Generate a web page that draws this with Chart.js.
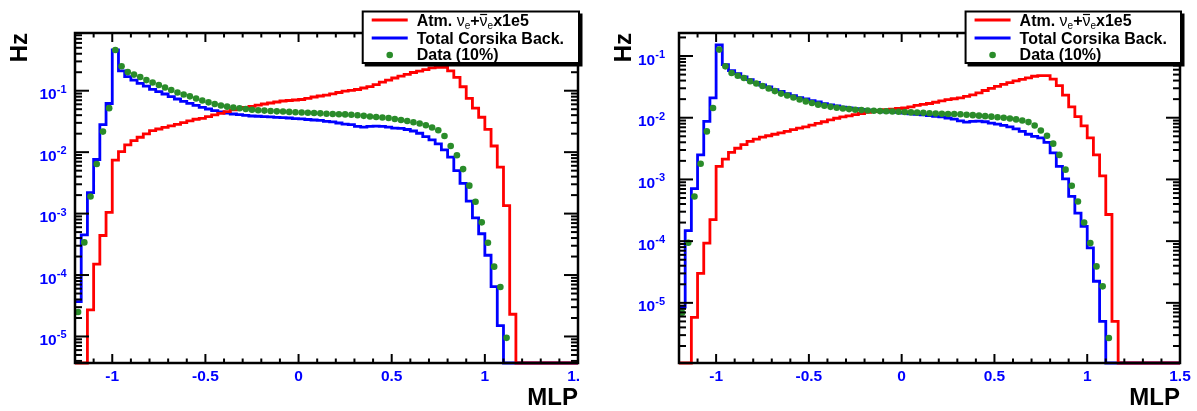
<!DOCTYPE html>
<html>
<head>
<meta charset="utf-8">
<script src="https://cdn.jsdelivr.net/npm/chart.js@4.4.1/dist/chart.umd.min.js"></script>
<style>
  html, body { margin: 0; padding: 0; background: #fff; }
  #wrap { position: relative; width: 1197px; height: 411px; }
  canvas { position: absolute; top: 0; }
</style>
</head>
<body>
<div id="wrap">
  <canvas id="left" width="598" height="411" style="left:0"></canvas>
  <canvas id="right" width="599" height="411" style="left:598px"></canvas>
</div>
<script>
// MLP histograms: 81 bins of width 1/30 from -1.2 to 1.5
const BIN_MIN = -1.2;
const BIN_WIDTH = 1 / 30;

const xTicks = [-1, -0.5, 0, 0.5, 1, 1.5];
const xTickLabels = ['-1', '-0.5', '0', '0.5', '1', '1.5'];
const yDecades = [-1, -2, -3, -4, -5];

const legendNames = ['Atm. \u03BDe+\u03BDex1e5', 'Total Corsika Back.', 'Data (10%)'];

// left panel
const nueLeft = [
  0, 0, 2.7e-5, 1.5e-4, 4.4e-4, 1.05e-3, 7.4e-3, 0.0102, 0.0131, 0.0154,
  0.0175, 0.0198, 0.0224, 0.0238, 0.0254, 0.0267, 0.0284, 0.0302, 0.0322, 0.0343,
  0.0356, 0.0378, 0.0403, 0.0429, 0.0456, 0.0486, 0.051, 0.0533, 0.0557, 0.0581,
  0.0608, 0.0631, 0.0655, 0.068, 0.0693, 0.0706, 0.0719, 0.0752, 0.079, 0.082,
  0.0851, 0.0891, 0.0935, 0.0982, 0.1015, 0.1046, 0.1107, 0.117, 0.126, 0.138,
  0.149, 0.161, 0.173, 0.185, 0.198, 0.209, 0.221, 0.235, 0.24, 0.24,
  0.211, 0.165, 0.116, 0.075, 0.052, 0.037, 0.0235, 0.0126, 0.0057, 0.00135,
  2.3e-5, 0, 0, 0, 0, 0, 0, 0, 0, 0,
  0
];
const corsikaLeft = [
  3.7e-5, 4.5e-4, 2.2e-3, 7.6e-3, 0.028, 0.062, 0.46, 0.211, 0.169, 0.149,
  0.132, 0.119, 0.105, 0.0964, 0.0884, 0.0799, 0.0733, 0.0673, 0.0624, 0.0579,
  0.0537, 0.0504, 0.0473, 0.0451, 0.0434, 0.0418, 0.0407, 0.0398, 0.0388, 0.0384,
  0.0378, 0.0374, 0.0369, 0.0364, 0.036, 0.0351, 0.0347, 0.034, 0.0334, 0.0328,
  0.0318, 0.031, 0.0298, 0.0287, 0.028, 0.0262, 0.0255, 0.0262, 0.0265, 0.0262,
  0.0255, 0.0247, 0.0243, 0.0234, 0.0221, 0.0203, 0.0179, 0.0158, 0.0136, 0.0109,
  0.0083, 0.005, 0.0031, 0.0016, 8.5e-4, 4.7e-4, 2.1e-4, 6.5e-5, 1.5e-5, 0,
  0, 0, 0, 0, 0, 0, 0, 0, 0, 0,
  0
];
const dataLeft = [
  2.5e-5, 3.4e-4, 1.9e-3, 6.4e-3, 0.0216, 0.052, 0.46, 0.25, 0.201, 0.183,
  0.167, 0.149, 0.136, 0.124, 0.113, 0.1026, 0.0935, 0.087, 0.081, 0.0747,
  0.0693, 0.0647, 0.0608, 0.0575, 0.055, 0.0533, 0.0518, 0.0505, 0.049, 0.0482,
  0.0475, 0.0468, 0.0462, 0.0458, 0.0452, 0.0447, 0.0442, 0.0437, 0.0433, 0.0428,
  0.0423, 0.0418, 0.0415, 0.0412, 0.0406, 0.0398, 0.039, 0.038, 0.0373, 0.0366,
  0.036, 0.0347, 0.0334, 0.0322, 0.0307, 0.0293, 0.0274, 0.0252, 0.0227, 0.0183,
  0.0126, 0.0089, 0.0053, 0.00285, 0.00156, 7.2e-4, 3.36e-4, 1.37e-4, 6.4e-5, 9.5e-6,
  0, 0, 0, 0, 0, 0, 0, 0, 0, 0,
  0
];

// right panel
const nueRight = [
  0, 0, 5.8e-6, 3.0e-5, 9.3e-5, 2.24e-4, 1.63e-3, 2.14e-3, 2.74e-3, 3.2e-3,
  3.66e-3, 4.14e-3, 4.5e-3, 4.86e-3, 5.1e-3, 5.4e-3, 5.7e-3, 6.0e-3, 6.4e-3, 6.8e-3,
  7.1e-3, 7.6e-3, 8.1e-3, 8.6e-3, 9.2e-3, 9.8e-3, 0.0103, 0.0107, 0.0112, 0.0117,
  0.0122, 0.0126, 0.0131, 0.0135, 0.0138, 0.0141, 0.0144, 0.015, 0.0158, 0.0164,
  0.017, 0.0178, 0.0187, 0.0196, 0.0203, 0.0209, 0.0221, 0.0234, 0.0252, 0.0276,
  0.0298, 0.0322, 0.0346, 0.037, 0.0396, 0.0418, 0.0442, 0.047, 0.048, 0.048,
  0.0422, 0.033, 0.0232, 0.015, 0.0104, 0.0074, 0.0047, 0.0025, 0.00114, 2.7e-4,
  5.0e-6, 0, 0, 0, 0, 0, 0, 0, 0, 0,
  0
];
const corsikaRight = [
  8.5e-6, 1.48e-4, 7.1e-4, 2.5e-3, 8.7e-3, 0.021, 0.152, 0.0724, 0.0578, 0.0517,
  0.0457, 0.0413, 0.0374, 0.0339, 0.0315, 0.0285, 0.0267, 0.0245, 0.0228, 0.0211,
  0.0201, 0.0189, 0.018, 0.0169, 0.0161, 0.0155, 0.0149, 0.0144, 0.014, 0.0137,
  0.0133, 0.013, 0.0127, 0.0125, 0.0124, 0.0122, 0.0119, 0.0116, 0.0113, 0.0111,
  0.0108, 0.0105, 0.0103, 0.0099, 0.0095, 0.0089, 0.0085, 0.0087, 0.0088, 0.0086,
  0.0082, 0.0079, 0.0075, 0.0071, 0.0066, 0.006, 0.0054, 0.005, 0.0047, 0.004,
  0.0027, 0.00163, 0.00102, 5.3e-4, 2.85e-4, 1.74e-4, 7.8e-5, 2.24e-5, 5.0e-6, 0,
  0, 0, 0, 0, 0, 0, 0, 0, 0, 0,
  0
];
const dataRight = [
  6.9e-6, 9.4e-5, 5.3e-4, 1.8e-3, 6.0e-3, 0.0144, 0.127, 0.068, 0.053, 0.048,
  0.044, 0.039, 0.0358, 0.0326, 0.0297, 0.027, 0.0246, 0.0229, 0.0213, 0.0197,
  0.0184, 0.0173, 0.0163, 0.0156, 0.015, 0.0145, 0.0141, 0.0138, 0.0135, 0.0133,
  0.0131, 0.013, 0.0128, 0.0127, 0.0126, 0.0125, 0.0124, 0.0122, 0.0121, 0.012,
  0.0118, 0.0117, 0.0116, 0.0115, 0.0115, 0.0114, 0.0112, 0.011, 0.0108, 0.0106,
  0.0104, 0.0102, 0.01, 0.0097, 0.0094, 0.009, 0.0085, 0.0075, 0.0062, 0.0051,
  0.0038, 0.0025, 0.00144, 7.9e-4, 4.4e-4, 2.0e-4, 9.3e-5, 3.9e-5, 1.85e-5, 2.7e-6,
  0, 0, 0, 0, 0, 0, 0, 0, 0, 0,
  0
];

const RED = '#ff0000';
const BLUE = '#0000ff';
const GREEN = '#2a8c2a';
const FONT = "'Liberation Sans', Arial, Helvetica, sans-serif";

// step outline: one point per lower bin edge, empty bins sit on the frame bottom
function histPoints(vals, yMin) {
    const pts = vals.map((v, i) => ({ x: BIN_MIN + i * BIN_WIDTH, y: v > 0 ? v : yMin }));
    pts.push({ x: BIN_MIN + vals.length * BIN_WIDTH, y: pts[pts.length - 1].y });
    return pts;
}

// markers at bin centres, empty bins are not drawn
function dotPoints(vals) {
    const pts = [];
    vals.forEach((v, i) => {
        if (v > 0) pts.push({ x: BIN_MIN + (i + 0.5) * BIN_WIDTH, y: v });
    });
    return pts;
}

function line(ctx, x1, y1, x2, y2) {
    ctx.beginPath();
    ctx.moveTo(x1, y1);
    ctx.lineTo(x2, y2);
    ctx.stroke();
}

// text pieces with their own font and vertical shift
function drawRich(ctx, parts, x, y) {
    parts.forEach(p => {
        ctx.font = p.font;
        const w = ctx.measureText(p.t).width;
        ctx.fillText(p.t, x, y + (p.dy || 0));
        if (p.bar) {
            ctx.save();
            ctx.lineWidth = 1.2;
            line(ctx, x + 0.5, y - 11.5, x + w - 0.5, y - 11.5);
            ctx.restore();
        }
        x += w;
    });
}

// ROOT style frame, inner ticks, labels, titles and legend
const rootAxes = {
    id: 'rootAxes',
    afterDatasetsDraw(chart, args, o) {
        const { ctx, chartArea: a, scales: { x, y } } = chart;
        ctx.save();
        ctx.strokeStyle = '#000';
        ctx.lineWidth = 2;

        for (let i = -12; i <= 15; i++) {
            const px = x.getPixelForValue(i / 10);
            const len = i % 5 === 0 ? 9 : 4.5;
            line(ctx, px, a.bottom, px, a.bottom - len);
            line(ctx, px, a.top, px, a.top + len);
        }
        for (let n = -6; n <= 0; n++) {
            for (let m = 1; m <= 9; m++) {
                const v = m * Math.pow(10, n);
                if (v < y.min || v > y.max) continue;
                const py = y.getPixelForValue(v);
                const len = m === 1 ? 14 : 7;
                line(ctx, a.left, py, a.left + len, py);
                line(ctx, a.right, py, a.right - len, py);
            }
        }
        ctx.lineWidth = 2.5;
        ctx.strokeRect(a.left, a.top, a.right - a.left, a.bottom - a.top);

        // x tick labels
        ctx.fillStyle = BLUE;
        ctx.font = 'bold 15.5px ' + FONT;
        ctx.textAlign = 'center';
        ctx.textBaseline = 'alphabetic';
        ctx.save();
        ctx.beginPath();
        ctx.rect(0, 0, a.right + o.clipRight, chart.height);
        ctx.clip();
        xTicks.forEach((v, i) => {
            ctx.fillText(xTickLabels[i], x.getPixelForValue(v), a.bottom + 17.5);
        });
        ctx.restore();

        // y tick labels: 10 with a raised exponent
        ctx.textAlign = 'left';
        yDecades.forEach(n => {
            const v = Math.pow(10, n);
            if (v < y.min || v > y.max) return;
            const py = y.getPixelForValue(v);
            ctx.font = 'bold 15.5px ' + FONT;
            const wBase = ctx.measureText('10').width;
            ctx.font = 'bold 11px ' + FONT;
            const wExp = ctx.measureText(String(n)).width;
            const x0 = a.left - o.labelGap - wBase - wExp;
            ctx.font = 'bold 15.5px ' + FONT;
            ctx.fillText('10', x0, py + 8.6);
            ctx.font = 'bold 11px ' + FONT;
            ctx.fillText(String(n), x0 + wBase, py + 2);
        });

        // axis titles
        ctx.fillStyle = '#000';
        ctx.font = 'bold 24px ' + FONT;
        ctx.textAlign = 'right';
        ctx.fillText('MLP', a.right, a.bottom + 42);
        ctx.save();
        ctx.translate(a.left - 48, a.top);
        ctx.rotate(-Math.PI / 2);
        ctx.fillText('Hz', 0, 0);
        ctx.restore();

        // legend box with shadow
        const lx0 = a.left + 0.572 * (a.right - a.left);
        const lx1 = a.right + 1;
        const ly0 = 11.5, ly1 = 63;
        ctx.fillStyle = '#000';
        ctx.fillRect(lx0 + 2, ly0 + 2, lx1 - lx0 + 1.5, ly1 - ly0 + 1.5);
        ctx.fillStyle = '#fff';
        ctx.fillRect(lx0, ly0, lx1 - lx0, ly1 - ly0);
        ctx.lineWidth = 2;
        ctx.strokeStyle = '#000';
        ctx.strokeRect(lx0, ly0, lx1 - lx0, ly1 - ly0);

        ctx.lineWidth = 2.8;
        ctx.strokeStyle = RED;
        line(ctx, lx0 + 9, 20, lx0 + 45, 20);
        ctx.strokeStyle = BLUE;
        line(ctx, lx0 + 9, 38, lx0 + 45, 38);
        ctx.fillStyle = GREEN;
        ctx.beginPath();
        ctx.arc(lx0 + 27, 55, 3.3, 0, Math.PI * 2);
        ctx.fill();

        ctx.fillStyle = '#000';
        ctx.strokeStyle = '#000';
        ctx.textAlign = 'left';
        const tx = lx0 + 54;
        const bold = 'bold 16px ' + FONT, plain = '16px ' + FONT, sub = '10px ' + FONT;
        drawRich(ctx, [
            { t: 'Atm. ', font: bold },
            { t: '\u03BD', font: plain },
            { t: 'e', font: sub, dy: 3 },
            { t: '+', font: bold },
            { t: '\u03BD', font: plain, bar: true },
            { t: 'e', font: sub, dy: 3 },
            { t: 'x1e5', font: bold }
        ], tx, 26);
        ctx.font = bold;
        ctx.fillText(legendNames[1], tx, 44);
        ctx.fillText(legendNames[2], tx, 60);
        ctx.restore();
    }
};

function makePanel(id, nue, corsika, data, yMin, yMax, pad, labelGap, clipRight) {
    return new Chart(document.getElementById(id).getContext('2d'), {
        type: 'line',
        data: {
            datasets: [
                {
                    label: legendNames[2],
                    data: dotPoints(data),
                    showLine: false,
                    pointRadius: 3.3,
                    pointBackgroundColor: GREEN,
                    pointBorderWidth: 0,
                    order: 0
                },
                {
                    label: legendNames[0],
                    data: histPoints(nue, yMin),
                    borderColor: RED,
                    borderWidth: 2.8,
                    pointRadius: 0,
                    stepped: 'before',
                    fill: false,
                    clip: false,
                    order: 1
                },
                {
                    label: legendNames[1],
                    data: histPoints(corsika, yMin),
                    borderColor: BLUE,
                    borderWidth: 2.8,
                    pointRadius: 0,
                    stepped: 'before',
                    fill: false,
                    clip: false,
                    order: 2
                }
            ]
        },
        options: {
            responsive: false,
            animation: false,
            devicePixelRatio: 1,
            layout: { padding: pad },
            plugins: {
                legend: { display: false },
                tooltip: { enabled: false },
                rootAxes: { labelGap: labelGap, clipRight: clipRight }
            },
            scales: {
                x: { type: 'linear', min: -1.2, max: 1.5, display: false },
                y: { type: 'logarithmic', min: yMin, max: yMax, display: false }
            }
        },
        plugins: [rootAxes]
    });
}

makePanel('left', nueLeft, corsikaLeft, dataLeft, 3.7e-6, 0.87,
    { left: 75, right: 20, top: 33, bottom: 48 }, 8.5, 2);
makePanel('right', nueRight, corsikaRight, dataRight, 1.06e-6, 0.236,
    { left: 81, right: 17, top: 33, bottom: 48 }, 14, 20);
</script>
</body>
</html>
